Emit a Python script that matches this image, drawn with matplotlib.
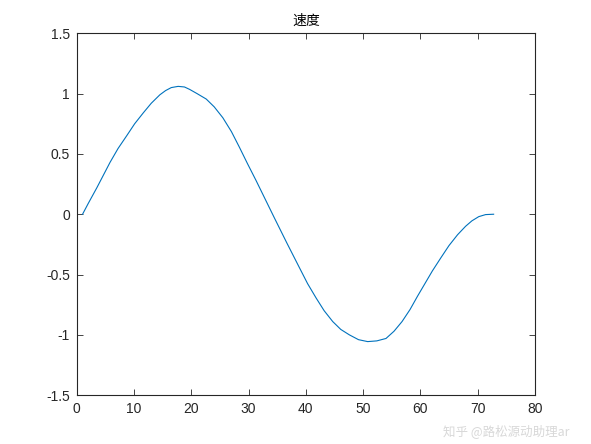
import matplotlib.pyplot as plt

plt.rcParams['font.family'] = ['Liberation Sans', 'Noto Sans CJK SC', 'DejaVu Sans']

# 速度曲线 (从图中读取的点)
t = [1, 2, 3.5, 5.8, 7.2, 8.7, 10.1, 11.6, 13, 14.5, 15.5, 16.5, 17.7, 18.8,
     19.7, 21, 22.6, 24, 25.5, 27, 28.4, 29.8, 31.3, 32.9, 34.5, 36.7, 38.9,
     40.3, 41.8, 43.2, 44.7, 46.1, 47.6, 49.2, 50.8, 52.4, 54.0, 55.4, 56.8,
     58.2, 59.5, 60.8, 62.1, 63.6, 65.0, 66.5, 67.9, 69.0, 70.2, 71.4, 72.8]
v = [0, 0.09, 0.22, 0.43, 0.545, 0.65, 0.75, 0.84, 0.92, 0.99, 1.025, 1.05,
     1.06, 1.055, 1.035, 1.0, 0.955, 0.89, 0.80, 0.685, 0.555, 0.42, 0.28,
     0.125, -0.03, -0.24, -0.445, -0.575, -0.695, -0.80, -0.89, -0.955, -1.0,
     -1.04, -1.056, -1.05, -1.03, -0.97, -0.89, -0.79, -0.68, -0.575, -0.47,
     -0.36, -0.26, -0.17, -0.10, -0.055, -0.02, -0.003, 0]

xticks = [0, 10, 20, 30, 40, 50, 60, 70, 80]
yticks = [-1.5, -1, -0.5, 0, 0.5, 1, 1.5]
yticklabels = ['-1.5', '-1', '-0.5', '0', '0.5', '1', '1.5']

fig = plt.figure(figsize=(5.91, 4.44), dpi=100)
ax = fig.add_axes([0.13, 0.11, 0.775, 0.815])
ax.plot(t, v, color='#0072BD', linewidth=0.8)

ax.set_xlim(0, 80)
ax.set_ylim(-1.5, 1.5)
ax.set_xticks(xticks)
ax.set_yticks(yticks)
ax.set_yticklabels(yticklabels)
ax.tick_params(direction='in', length=4, width=0.6, top=True, right=True,
               labelsize=10, colors='#262626', pad=5)
for s in ax.spines.values():
    s.set_linewidth(0.8)
    s.set_color('#262626')
ax.set_title('速度', fontsize=10, family=['Noto Sans CJK SC', 'DejaVu Sans'], pad=6)

# 水印
fig.text(0.75, 0.02, '知乎 @路松源动助理ar', fontsize=9, color='#d8d8d8',
         family=['Noto Sans CJK SC', 'DejaVu Sans'])

fig.savefig('out.png', dpi=100)
